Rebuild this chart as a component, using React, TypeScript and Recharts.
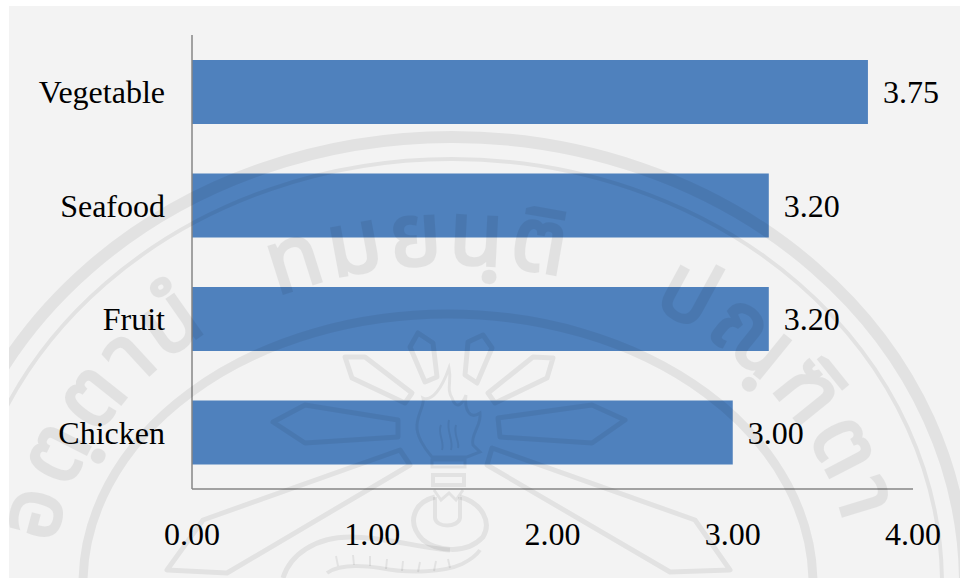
import { BarChart, Bar, XAxis, YAxis, LabelList } from 'recharts';

const categories = ['Vegetable', 'Seafood', 'Fruit', 'Chicken'];
const scores = [3.75, 3.2, 3.2, 3.0];
const xTicks = [0, 1, 2, 3, 4];

const rows = categories.map((name, i) => ({ name, score: scores[i] }));

const SERIF = '"Liberation Serif", "Times New Roman", serif';
const fmt = (v: number) => Number(v).toFixed(2);

// ellipse running clockwise over the top and a little past the sides, for the seal's lettering
const topArc = (cx: number, cy: number, a: number, b: number) => {
  const dy = 60;
  const dx = a * Math.sqrt(1 - (dy * dy) / (b * b));
  return `M ${cx - dx} ${cy + dy} A ${a} ${b} 0 1 1 ${cx + dx} ${cy + dy}`;
};

const motto = [
  { word: 'อตฺตานํ', at: '19%' },
  { word: 'ทมยนฺติ', at: '47.5%' },
  { word: 'ปณฺฑิตา', at: '78.5%' },
];

// university seal printed behind the page
const Seal = () => {
  const ink = 'rgba(0,0,0,0.065)';
  const spokes = [
    '418,333 410,347 425,382 437,377 433,343',
    '483,335 468,342 465,375 477,383 492,348',
    '345,357 352,378 405,403 412,393 365,357',
    '553,358 533,357 488,393 495,403 547,378',
    '273,422 305,405 398,420 398,437 305,443',
    '625,420 592,405 498,418 500,437 592,443',
    '400,450 203,520 167,570 227,573 410,465',
    '492,448 695,520 730,570 670,572 487,465',
  ];
  return (
    <svg
      width={960}
      height={578}
      style={{ position: 'absolute', left: 0, top: 0, pointerEvents: 'none' }}
    >
      <defs>
        <clipPath id="page">
          <rect x={9} y={6} width={951} height={572} />
        </clipPath>
        <path id="letters" d={topArc(452, 584, 400, 320)} />
      </defs>
      <g clipPath="url(#page)" fill="none" stroke={ink}>
        <ellipse cx={452} cy={584} rx={513} ry={447} strokeWidth={12} />
        <ellipse cx={452} cy={584} rx={490} ry={425} strokeWidth={4} />
        <ellipse cx={448} cy={584} rx={365} ry={270} strokeWidth={9} />
        {spokes.map((pts) => (
          <polygon key={pts} points={pts} strokeWidth={5} strokeLinejoin="round" />
        ))}
        {/* torch */}
        <path
          d="M449 368 C452 382 446 388 452 398 C456 410 462 405 466 395 C464 410 470 420 480 413 C482 425 470 435 473 445 L480 452 L467 457 L432 457 C424 448 416 435 417 425 C418 412 425 405 423 398 C432 402 442 388 449 368 Z"
          strokeWidth={3}
        />
        <path
          d="M441 425 C437 433 445 442 442 450 M449 420 C446 432 454 440 451 450 M456 425 C453 435 460 442 458 448"
          strokeWidth={2}
        />
        <path d="M432 460 H465 V467 H432 Z" strokeWidth={3} />
        <rect x={433} y={475} width={31} height={10} strokeWidth={4} />
        <path d="M434 490 L441 500 L449 493 L456 500 L463 490" strokeWidth={3} />
        <path d="M435 497 V518 C436 528 458 528 460 518 V497" strokeWidth={4} />
        {/* snake */}
        <path d="M435 497 C415 502 405 522 423 540 C435 550 465 556 483 537 C492 522 482 503 460 497" strokeWidth={5} />
        <path d="M283 578 C290 555 315 537 350 537 C385 537 420 548 450 550" strokeWidth={5} />
        <path d="M327 573 C338 565 360 565 380 568 C410 574 445 572 462 564 C470 560 476 556 480 550" strokeWidth={4} />
        <path
          d="M338 566 L336 556 M354 565 L353 555 M370 566 L370 556 M386 569 L387 559 M402 571 L403 561 M418 572 L420 562 M434 571 L436 561 M450 568 L448 559"
          strokeWidth={2}
        />
        <text
          fontFamily='"Noto Sans Thai", "Noto Sans", sans-serif'
          fontSize={88}
          fill="#000"
          stroke="#000"
          strokeWidth={3}
          opacity={0.065}
          letterSpacing={5}
        >
          {motto.map((m) => (
            <textPath key={m.word} href="#letters" startOffset={m.at} textAnchor="middle">
              {m.word}
            </textPath>
          ))}
        </text>
      </g>
    </svg>
  );
};

export default function App() {
  return (
    <div style={{ position: 'absolute', left: 0, top: 0, width: 960, height: 578, background: '#fff' }}>
      <div style={{ position: 'absolute', left: 9, top: 6, right: 0, bottom: 0, background: '#f3f3f3' }} />
      <BarChart
        width={960}
        height={578}
        data={rows}
        layout="vertical"
        margin={{ top: 35, right: 47, bottom: 0, left: 0 }}
        style={{ position: 'absolute', left: 0, top: 0 }}
      >
        <XAxis
          type="number"
          domain={[0, 4]}
          ticks={xTicks}
          tickFormatter={fmt}
          height={89}
          tickLine={false}
          tickMargin={27}
          interval={0}
          axisLine={{ stroke: '#868686', strokeWidth: 1.5 }}
          tick={{ fill: '#000', fontSize: 32, fontFamily: SERIF }}
        />
        <YAxis
          type="category"
          dataKey="name"
          width={192}
          tickLine={false}
          tickMargin={21}
          interval={0}
          axisLine={{ stroke: '#868686', strokeWidth: 1.5 }}
          tick={{ fill: '#000', fontSize: 32, fontFamily: SERIF }}
        />
        <Bar dataKey="score" fill="#4f81bd" barSize={64} isAnimationActive={false}>
          <LabelList
            dataKey="score"
            position="right"
            offset={15}
            formatter={fmt}
            fill="#000"
            fontSize={32}
            fontFamily={SERIF}
          />
        </Bar>
      </BarChart>
      <Seal />
    </div>
  );
}
